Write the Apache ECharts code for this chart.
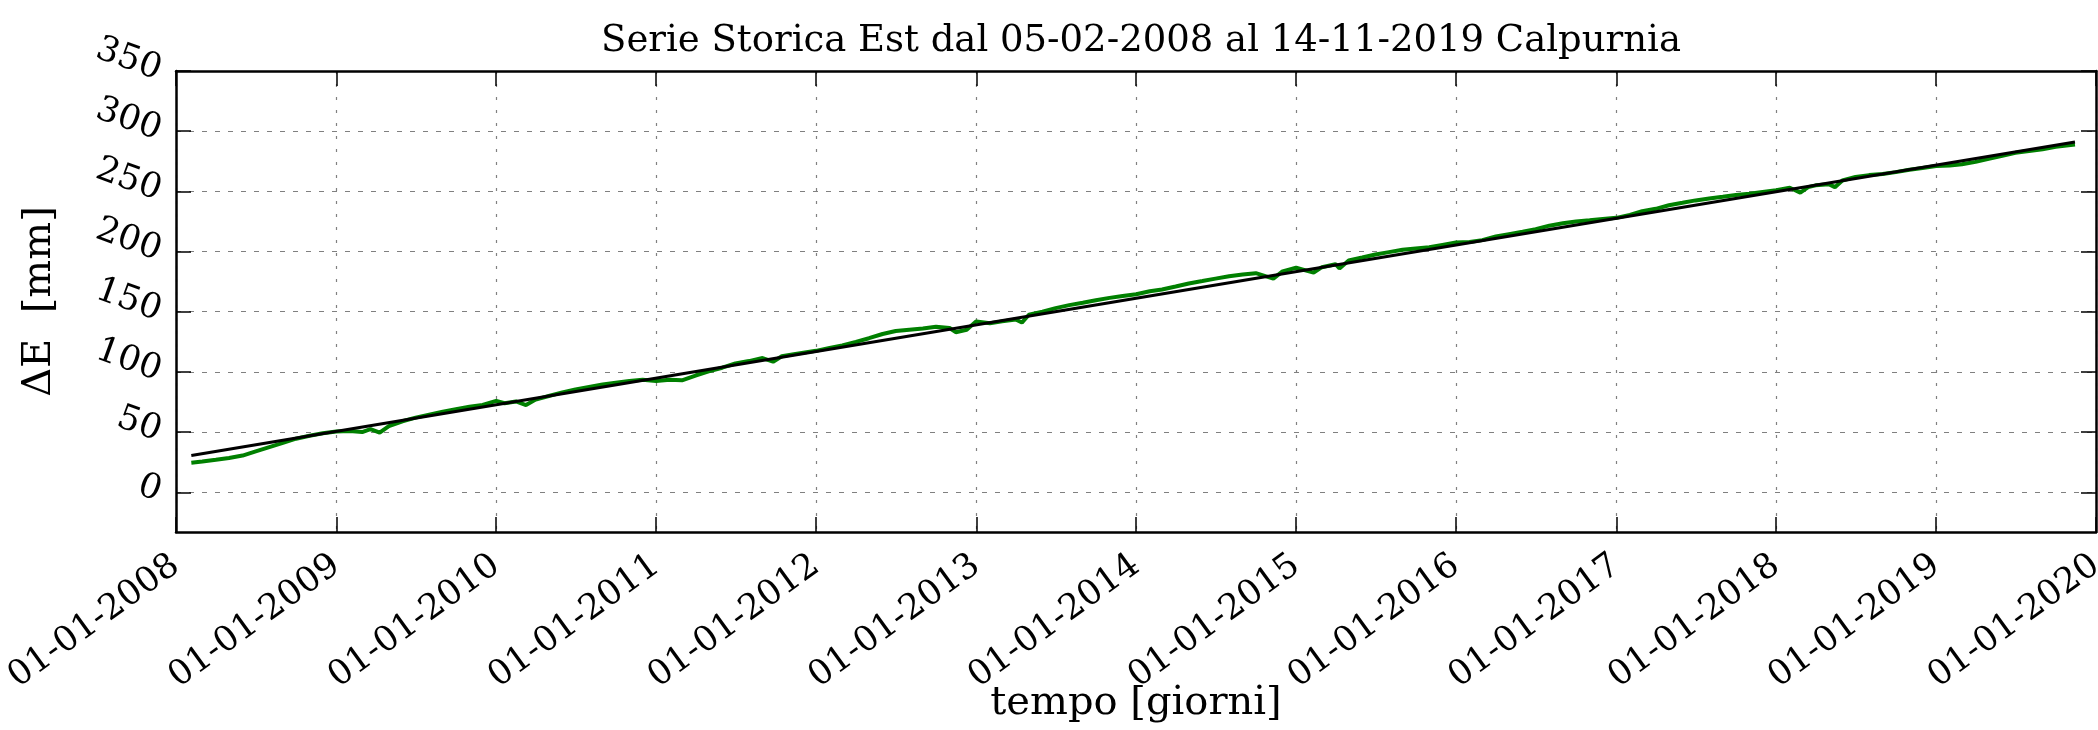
<!DOCTYPE html>
<html>
<head>
<meta charset="utf-8">
<script src="https://cdn.jsdelivr.net/npm/echarts@6/dist/echarts.min.js"></script>
<style>html,body{margin:0;padding:0;background:#fff}#c{width:2098px;height:730px}</style>
</head>
<body>
<div id="c"></div>
<script>
const titleText = 'Serie Storica Est dal 05-02-2008 al 14-11-2019 Calpurnia';
const xAxisName = 'tempo [giorni]';
const yAxisName = 'ΔE  [mm]';

const xTickDates = ['2008-01-01','2009-01-01','2010-01-01','2011-01-01','2012-01-01','2013-01-01','2014-01-01',
  '2015-01-01','2016-01-01','2017-01-01','2018-01-01','2019-01-01','2020-01-01'];
const yTicks = [0, 50, 100, 150, 200, 250, 300, 350];
const xRange = ['2008-01-01', '2020-01-01'];
const yRange = [-33, 350];

const obsDates = [
 '2008-02-05','2008-03-01','2008-04-01','2008-05-01','2008-06-01','2008-07-01','2008-08-01','2008-09-01','2008-10-01','2008-11-01','2008-12-01',
 '2009-01-01','2009-02-01','2009-03-01','2009-03-20','2009-04-10','2009-05-01','2009-06-01','2009-07-01','2009-08-01','2009-09-01','2009-10-01','2009-11-01','2009-12-01',
 '2010-01-01','2010-01-20','2010-02-15','2010-03-10','2010-04-01','2010-05-01','2010-06-01','2010-07-01','2010-08-01','2010-09-01','2010-10-01','2010-11-01','2010-12-01',
 '2011-01-01','2011-02-01','2011-03-01','2011-04-01','2011-05-01','2011-06-01','2011-07-01','2011-08-01','2011-09-01','2011-09-25','2011-10-15','2011-11-15',
 '2012-01-01','2012-02-01','2012-03-01','2012-04-01','2012-05-01','2012-06-01','2012-07-01','2012-08-01','2012-09-01','2012-10-01','2012-11-01','2012-11-15','2012-12-10',
 '2013-01-01','2013-02-01','2013-03-01','2013-04-01','2013-04-15','2013-05-01','2013-06-01','2013-07-01','2013-08-01','2013-09-01','2013-10-01','2013-11-01','2013-12-01',
 '2014-01-01','2014-02-01','2014-03-01','2014-04-01','2014-05-01','2014-06-01','2014-07-01','2014-08-01','2014-09-01','2014-10-01','2014-11-10','2014-12-01',
 '2015-01-01','2015-02-10','2015-03-01','2015-04-01','2015-04-10','2015-05-01','2015-06-01','2015-07-01','2015-08-01','2015-09-01','2015-10-01','2015-11-01','2015-12-01',
 '2016-01-01','2016-02-01','2016-03-01','2016-04-01','2016-05-01','2016-06-01','2016-07-01','2016-08-01','2016-09-01','2016-10-01','2016-11-01','2016-12-01',
 '2017-01-01','2017-02-01','2017-03-01','2017-04-01','2017-05-01','2017-06-01','2017-07-01','2017-08-01','2017-09-01','2017-10-01','2017-11-01','2017-12-01',
 '2018-01-01','2018-02-01','2018-02-25','2018-03-15','2018-04-01','2018-05-01','2018-05-15','2018-06-01','2018-07-01','2018-08-01','2018-09-01','2018-10-01','2018-11-01','2018-12-01',
 '2019-01-01','2019-02-01','2019-03-01','2019-04-01','2019-05-01','2019-06-01','2019-07-01','2019-08-01','2019-09-01','2019-10-01','2019-11-14'
];
const obsValues = [
 24.5,25.5,27.0,28.5,30.5,34.0,37.5,41.0,44.5,47.0,49.0,
 50.5,51.0,50.0,52.5,49.5,55.0,59.0,62.0,64.5,67.0,69.0,71.0,72.5,
 76.0,74.0,75.5,72.5,77.0,80.0,83.0,85.5,87.5,89.5,91.0,92.5,93.5,
 92.5,93.5,93.0,97.0,100.5,103.5,107.0,109.0,111.5,108.5,113.0,115.0,
 117.5,120.0,122.0,125.0,128.0,131.5,134.0,135.0,136.0,137.5,136.5,133.0,135.0,
 142.0,140.5,142.0,143.5,141.0,147.5,150.0,153.0,155.5,157.5,159.5,161.5,163.0,
 164.5,167.0,168.5,171.0,173.5,175.5,177.5,179.5,181.0,182.0,177.5,183.5,
 186.5,182.5,187.0,189.5,186.0,192.5,195.0,197.5,199.5,201.5,202.5,203.5,205.5,
 207.5,208.0,209.5,212.5,214.5,216.5,218.5,221.5,223.5,225.0,226.0,227.0,
 228.0,230.5,233.5,235.5,238.5,240.5,242.5,244.0,245.5,247.0,248.0,249.5,
 251.0,253.0,249.0,253.5,255.0,256.0,253.5,259.0,262.0,263.5,264.5,266.0,268.0,269.5,
 271.0,271.5,272.5,274.5,277.0,279.5,282.0,283.5,285.0,287.0,289.0
];
const trendDates = ['2008-02-05', '2019-11-14'];
const trendValues = [30.5, 291.0];

function ts(s) { const p = s.split('-').map(Number); return new Date(p[0], p[1] - 1, p[2]).getTime(); }
function pad(n) { return (n < 10 ? '0' : '') + n; }
function fmtDate(v) { const d = new Date(v); return pad(d.getDate()) + '-' + pad(d.getMonth() + 1) + '-' + d.getFullYear(); }

const FONT = "'DejaVu Serif', serif";
const xTicks = xTickDates.map(ts);
const obsData = obsDates.map((d, i) => [ts(d), obsValues[i]]);
const trendData = trendDates.map((d, i) => [ts(d), trendValues[i]]);

const axisLineStyle = { show: true, onZero: false, lineStyle: { color: '#000', width: 2.5 } };
const tickStyle = { show: true, inside: true, length: 15, lineStyle: { color: '#000', width: 1.5 } };

const chart = echarts.init(document.getElementById('c'), null, { renderer: 'canvas' });
chart.setOption({
  animation: false,
  backgroundColor: '#fff',
  title: {
    text: titleText, left: 1136, top: 18, textAlign: 'center',
    textStyle: { fontFamily: FONT, fontSize: 37, fontWeight: 'normal', color: '#000' }
  },
  graphic: [{
    type: 'text', x: 1136, y: 704, z: 10,
    style: { text: xAxisName, fontFamily: FONT, fontSize: 40, fill: '#000', textAlign: 'center', textVerticalAlign: 'middle' }
  }],
  grid: { left: 176, right: 2, top: 71, bottom: 198, outerBoundsMode: 'none', containLabel: false },
  xAxis: [{
    type: 'value', position: 'bottom', min: ts(xRange[0]), max: ts(xRange[1]), scale: true,
    axisLine: axisLineStyle,
    axisTick: Object.assign({ customValues: xTicks }, tickStyle),
    axisLabel: { customValues: xTicks, formatter: fmtDate, rotate: 36, margin: 30,
      fontFamily: FONT, fontSize: 35, color: '#000', hideOverlap: false, showMinLabel: true, showMaxLabel: true },
    splitLine: { show: true, lineStyle: { color: '#808080', width: 1.2, type: [3, 10] } }
  }, {
    type: 'value', position: 'top', min: ts(xRange[0]), max: ts(xRange[1]), scale: true,
    axisLine: axisLineStyle,
    axisTick: Object.assign({ customValues: xTicks }, tickStyle),
    axisLabel: { show: false }, splitLine: { show: false }
  }],
  yAxis: [{
    type: 'value', position: 'left', min: yRange[0], max: yRange[1],
    name: yAxisName, nameLocation: 'middle', nameGap: 116, nameRotate: 90,
    nameTextStyle: { fontFamily: FONT, fontSize: 40, color: '#000' },
    axisLine: axisLineStyle,
    axisTick: Object.assign({ customValues: yTicks }, tickStyle),
    axisLabel: { customValues: yTicks, rotate: -20, margin: 16,
      fontFamily: FONT, fontSize: 35, color: '#000', showMinLabel: true, showMaxLabel: true },
    splitLine: { show: true, lineStyle: { color: '#808080', width: 1.2, type: [5, 8] } }
  }, {
    type: 'value', position: 'right', min: yRange[0], max: yRange[1],
    axisLine: axisLineStyle,
    axisTick: Object.assign({ customValues: yTicks }, tickStyle),
    axisLabel: { show: false }, splitLine: { show: false }
  }],
  series: [{
    name: 'osservazioni', type: 'line', xAxisIndex: 0, yAxisIndex: 0, data: obsData,
    showSymbol: false, symbol: 'none', z: 3,
    lineStyle: { color: '#008000', width: 4 }
  }, {
    name: 'trend', type: 'line', xAxisIndex: 0, yAxisIndex: 0, data: trendData,
    showSymbol: false, symbol: 'none', z: 4,
    lineStyle: { color: '#000', width: 3 }
  }]
});
</script>
</body>
</html>
